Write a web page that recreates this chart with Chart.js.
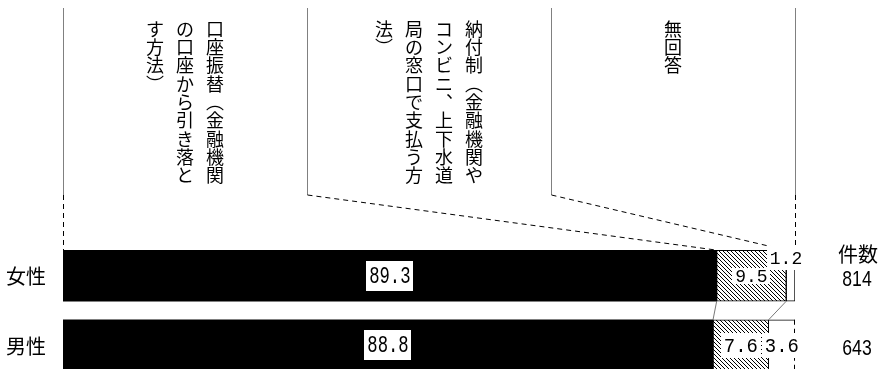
<!DOCTYPE html>
<html>
<head>
<meta charset="utf-8">
<script src="https://cdn.jsdelivr.net/npm/chart.js@4"></script>
<style>
  html, body { margin: 0; padding: 0; background: #fff; overflow: hidden; }
  #wrap { width: 880px; height: 369px; overflow: hidden; }
</style>
</head>
<body>
<div id="wrap"><canvas id="c" width="880" height="400"></canvas></div>
<script>
// data
const rows = ['女性', '男性'];
const counts = ['814', '643'];
const countTitle = '件数';
const seriesNames = [
  '口座振替（金融機関の口座から引き落とす方法）',
  '納付制（金融機関やコンビニ、上下水道局の窓口で支払う方法）',
  '無回答'
];
const furikae = [89.3, 88.8];
const noufu = [9.5, 7.6];
const mukaitou = [1.2, 3.6];

// label looks per [dataset][row]
const BIG = { size: 23, sx: 0.75, h: 30 };
const MID = { size: 21, sx: 0.9, h: 25 };
const SMALL = { size: 18, sx: 1, h: 16 };
const labelStyle = [
  [BIG, BIG],
  [SMALL, MID],
  [{ size: 18, sx: 1, h: 24, corner: true }, MID]
];

const JP = '"Noto Sans CJK JP", sans-serif';
const VERT = { '（': '︵', '）': '︶', '、': '︑' };

const cv = document.getElementById('c');
const ctx = cv.getContext('2d');

function hatch() {
  const c = document.createElement('canvas');
  c.width = c.height = 4;
  const g = c.getContext('2d');
  g.fillStyle = '#fff';
  g.fillRect(0, 0, 4, 4);
  g.strokeStyle = '#000';
  g.lineWidth = 1;
  g.beginPath();
  g.moveTo(-1, -1); g.lineTo(5, 5);
  g.moveTo(-1, 3); g.lineTo(1, 5);
  g.moveTo(3, -1); g.lineTo(5, 1);
  g.stroke();
  return ctx.createPattern(c, 'repeat');
}

function numText(g, text, x, y, st) {
  g.save();
  g.font = st.size + 'px "Liberation Mono", monospace';
  const w = g.measureText(text).width * st.sx;
  g.fillStyle = '#fff';
  g.fillRect(Math.round(x - w / 2 - 3), Math.round(y - st.h / 2), Math.round(w + 6), st.h);
  g.translate(x, y);
  g.scale(st.sx, 1);
  g.fillStyle = '#000';
  g.textAlign = 'center';
  g.textBaseline = 'middle';
  g.fillText(text, 0, 1);
  g.restore();
}

function line(g, x1, y1, x2, y2) {
  g.beginPath(); g.moveTo(x1, y1); g.lineTo(x2, y2); g.stroke();
}

const decor = {
  id: 'decor',
  afterDatasetsDraw(chart) {
    const g = chart.ctx;
    const xs = chart.scales.x;
    const x0 = xs.getPixelForValue(0), x100 = xs.getPixelForValue(100);
    const third = (x100 - x0) / 3;
    const hTop = 8, hBot = 195;
    const metas = [0, 1, 2].map(i => chart.getDatasetMeta(i));
    const bar = metas[0].data;
    const top = r => bar[r].y - bar[r].height / 2;
    const bot = r => bar[r].y + bar[r].height / 2;
    const cum = r => [0, furikae[r], furikae[r] + noufu[r], 100];
    g.save();

    // header frame lines
    g.strokeStyle = '#808080';
    g.lineWidth = 1;
    for (let i = 0; i <= 3; i++) {
      const x = Math.round(x0 + i * third) + 0.5;
      line(g, x, hTop, x, hBot);
    }
    // dashed leaders down to the first bar
    g.strokeStyle = '#000';
    g.setLineDash([5, 4]);
    const cf = cum(0);
    for (let i = 0; i <= 3; i++) {
      const x = Math.round(x0 + i * third) + 0.5;
      line(g, x, hBot, Math.round(xs.getPixelForValue(cf[i])) + 0.5, top(0));
    }
    // right edge of the second row
    line(g, Math.round(x100) - 0.5, top(1), Math.round(x100) - 0.5, bot(1) + 20);
    g.setLineDash([]);

    // connectors between rows
    g.strokeStyle = '#555';
    g.lineWidth = 0.8;
    const cm = cum(1);
    for (let i = 1; i <= 2; i++) {
      line(g, xs.getPixelForValue(cf[i]), bot(0), xs.getPixelForValue(cm[i]), top(1));
    }

    // vertical header text
    g.fillStyle = '#000';
    g.font = '18px ' + JP;
    g.textAlign = 'center';
    g.textBaseline = 'middle';
    seriesNames.forEach((name, k) => {
      const chars = [...name].map(c => VERT[c] || c);
      const cols = [];
      for (let i = 0; i < chars.length; i += 9) cols.push(chars.slice(i, i + 9));
      const cx = x0 + third * (k + 0.5);
      cols.forEach((col, j) => {
        const x = cx + (cols.length - 1) / 2 * 30 - j * 30;
        col.forEach((ch, i) => g.fillText(ch, x, 29 + i * 18.3));
      });
    });

    // value labels
    metas.forEach((m, d) => {
      m.data.forEach((el, r) => {
        const v = chart.data.datasets[d].data[r];
        const st = labelStyle[d][r];
        if (st.corner) {
          numText(g, v.toFixed(1), el.x - 9, top(r) + 8, st);
        } else {
          numText(g, v.toFixed(1), (el.x + el.base) / 2, el.y, st);
        }
      });
    });

    // row labels
    g.fillStyle = '#000';
    g.font = '20px ' + JP;
    g.textAlign = 'center';
    g.textBaseline = 'middle';
    rows.forEach((t, r) => g.fillText(t, 26, bar[r].y + 1));

    // counts
    g.fillText(countTitle, 858, 254);
    g.font = '22px "Liberation Sans", sans-serif';
    counts.forEach((t, r) => {
      g.save();
      g.translate(857, bar[r].y + 4);
      g.scale(0.8, 1);
      g.fillText(t, 0, 0);
      g.restore();
    });
    g.restore();
  }
};

new Chart(cv, {
  type: 'bar',
  data: {
    labels: rows,
    datasets: [
      { label: seriesNames[0], data: furikae, backgroundColor: '#000', borderWidth: 0 },
      { label: seriesNames[1], data: noufu, backgroundColor: hatch(), borderColor: '#000', borderWidth: 1, borderSkipped: false },
      { label: seriesNames[2], data: mukaitou, backgroundColor: '#fff', borderColor: '#000',
        borderWidth: c => c.dataIndex === 1 ? { top: 1, bottom: 1, left: 0, right: 0 } : 1, borderSkipped: false }
    ]
  },
  options: {
    indexAxis: 'y',
    responsive: false,
    devicePixelRatio: 1,
    animation: false,
    layout: { padding: { left: 63, right: 85, top: 241, bottom: 20 } },
    barThickness: 51,
    scales: {
      x: { stacked: true, min: 0, max: 100, display: false },
      y: { stacked: true, display: false }
    },
    plugins: { legend: { display: false }, tooltip: { enabled: false } }
  },
  plugins: [decor]
});
</script>
</body>
</html>
